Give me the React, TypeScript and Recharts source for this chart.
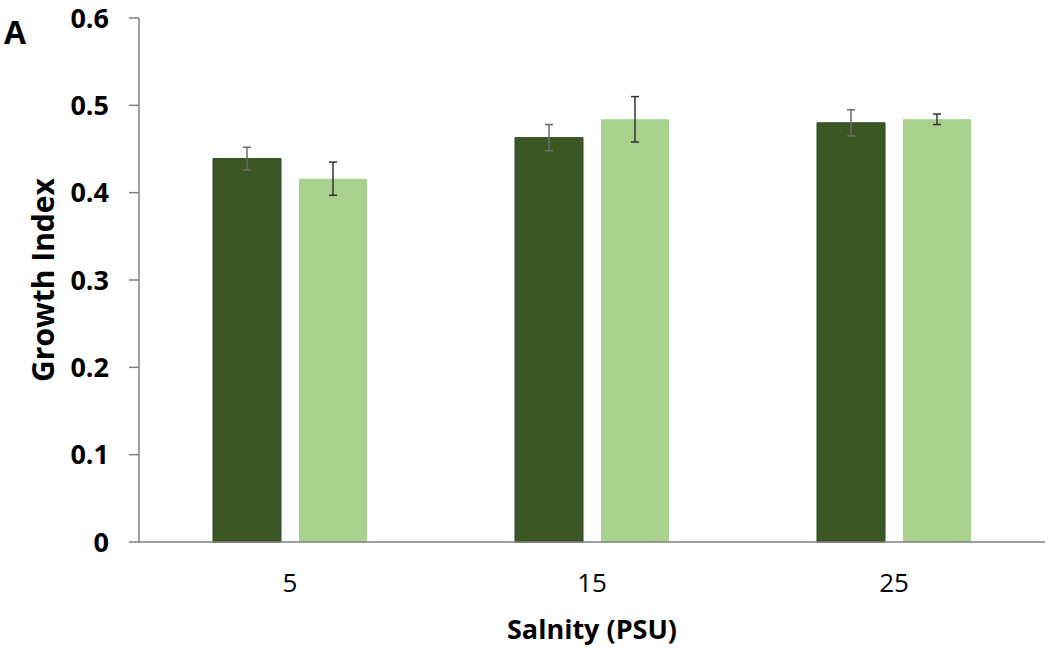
import { Bar, BarChart, ErrorBar, XAxis, YAxis } from "recharts";

const salinity = ["5", "15", "25"];
const darkValues = [0.439, 0.463, 0.48];
const darkErrors = [0.013, 0.015, 0.015];
const lightValues = [0.416, 0.484, 0.484];
const lightErrors = [0.019, 0.026, 0.006];
const yTicks = [0, 0.1, 0.2, 0.3, 0.4, 0.5, 0.6];

const data = salinity.map((s, i) => ({
    name: s,
    dark: darkValues[i],
    darkErr: darkErrors[i],
    light: lightValues[i],
    lightErr: lightErrors[i],
}));

const font = "'Open Sans', sans-serif";

export default function App() {
    return (
        <div style={{ position: "absolute", left: 0, top: 0, width: 1050, height: 657, background: "#fff" }}>
            <div style={{ position: "absolute", left: 4, top: 12, fontFamily: font, fontWeight: 700, fontSize: 32, lineHeight: "40px", color: "#000" }}>
                A
            </div>
            <BarChart
                width={1050}
                height={657}
                data={data}
                margin={{ top: 18, right: 5, left: 0, bottom: 0 }}
                barSize={68}
                barGap={18}
            >
                <XAxis
                    dataKey="name"
                    height={115}
                    tickLine={false}
                    tickSize={0}
                    tickMargin={32}
                    axisLine={{ stroke: "#7f7f7f", strokeWidth: 1.5 }}
                    tick={{ fill: "#000", fontSize: 26, fontFamily: font }}
                    label={{
                        value: "Salnity (PSU)",
                        position: "insideBottom",
                        offset: 18,
                        fill: "#000",
                        fontSize: 27,
                        fontWeight: 700,
                        fontFamily: font,
                    }}
                />
                <YAxis
                    width={139}
                    domain={[0, 0.6]}
                    ticks={yTicks}
                    tickSize={10}
                    tickMargin={20}
                    tickFormatter={(v: number) => (v === 0 ? "0" : v.toFixed(1))}
                    axisLine={{ stroke: "#7f7f7f", strokeWidth: 1.5 }}
                    tickLine={{ stroke: "#7f7f7f", strokeWidth: 1.5 }}
                    tick={{ fill: "#000", fontSize: 27, fontWeight: 700, fontFamily: font }}
                    label={{
                        value: "Growth Index",
                        angle: -90,
                        position: "insideLeft",
                        offset: 43,
                        fill: "#000",
                        fontSize: 30,
                        fontWeight: 700,
                        fontFamily: font,
                        style: { textAnchor: "middle" },
                    }}
                />
                <Bar dataKey="dark" fill="#3a5724" stroke="#2f4a1d" strokeWidth={1} isAnimationActive={false}>
                    <ErrorBar dataKey="darkErr" width={4} stroke="#6b6b6b" strokeWidth={1.5} />
                </Bar>
                <Bar dataKey="light" fill="#a9d18e" isAnimationActive={false}>
                    <ErrorBar dataKey="lightErr" width={4} stroke="#333" strokeWidth={1.5} />
                </Bar>
            </BarChart>
        </div>
    );
}
